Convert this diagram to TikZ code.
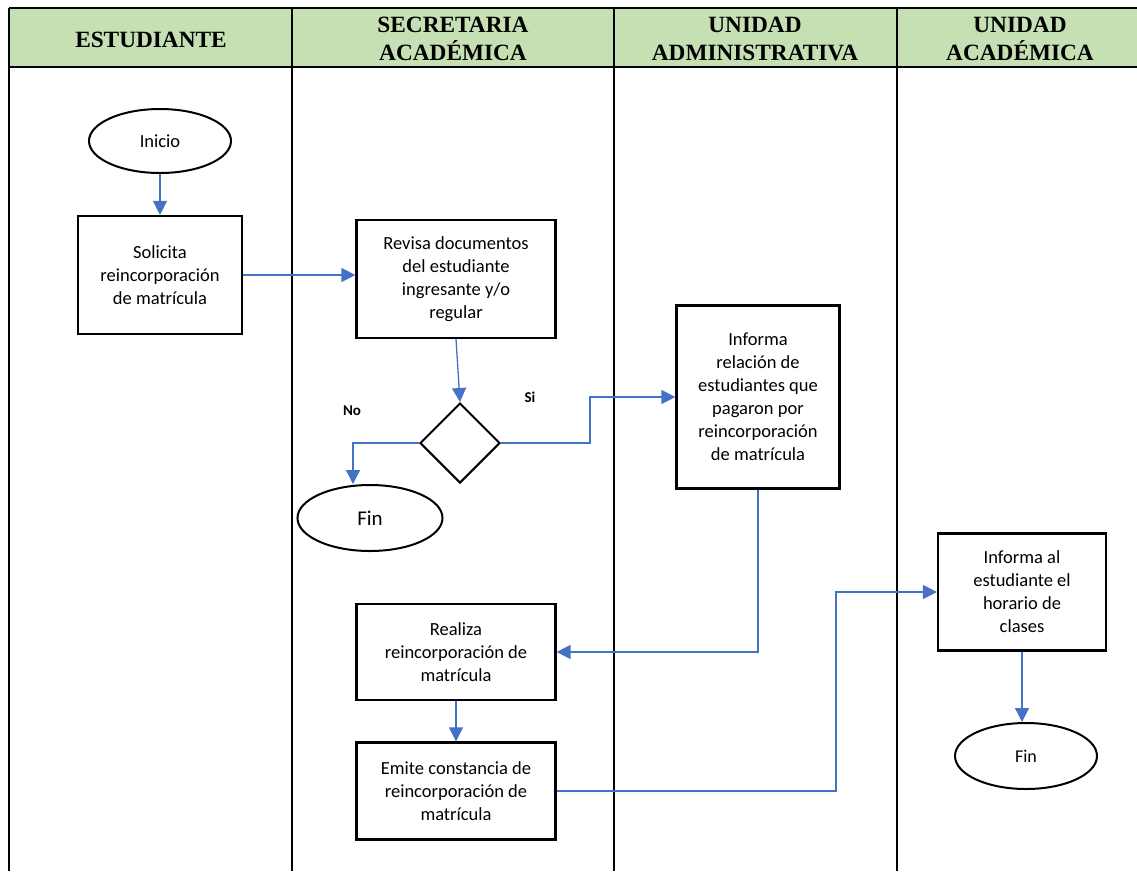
\documentclass[tikz,border=0pt]{standalone}
\usepackage{fontspec}
\setmainfont{Carlito}
\newfontfamily\hdrfont{Liberation Serif}
\usetikzlibrary{arrows.meta,shapes.geometric}
\definecolor{hdrgreen}{RGB}{198,224,180}
\definecolor{flowblue}{RGB}{68,114,196}
\begin{document}
\begin{tikzpicture}[x=1pt,y=-1pt,
  lane/.style={line width=1.6pt,black},
  hdr/.style={font=\hdrfont\bfseries\fontsize{23.3}{28}\selectfont,align=center,inner sep=0pt},
  proc/.style={draw=black,line width=2.2pt,rectangle,align=center,inner sep=2pt,
     font=\fontsize{18.5}{23}\selectfont},
  term/.style={draw=black,line width=2pt,ellipse,inner sep=0pt,font=\fontsize{18.5}{22}\selectfont},
  decision/.style={draw=black,line width=2pt,diamond,minimum width=80pt,minimum height=80pt,inner sep=0pt},
  arr/.style={draw=flowblue,line width=1.3pt,-{Triangle[length=14pt,width=14pt]}},
  lbl/.style={font=\bfseries\fontsize{15}{17}\selectfont,inner sep=0pt}]
\useasboundingbox (0,0) rectangle (1137,871);

% swimlane header band
\fill[hdrgreen] (9,8) rectangle (1137,67);
\draw[lane] (9,8) -- (1137,8);
\draw[lane] (9,67) -- (1137,67);
\foreach \lx in {9,292,614,897}
  \draw[lane] (\lx,8) -- (\lx,871);

\node[hdr] (h1) at (151,40) {ESTUDIANTE};
\node[hdr] (h2) at (453,39) {SECRETARIA\\ACADÉMICA};
\node[hdr] (h3) at (755,39) {UNIDAD\\ADMINISTRATIVA};
\node[hdr] (h4) at (1020,39) {UNIDAD\\ACADÉMICA};

% flow nodes
\node[term,minimum width=142pt,minimum height=64pt] (inicio) at (160,141) {Inicio};
\node[proc,minimum width=164pt,minimum height=118pt] (sol) at (160,275)
  {Solicita\\reincorporación\\de matrícula};
\node[proc,minimum width=199pt,minimum height=118pt] (rev) at (456,279)
  {Revisa documentos\\del estudiante\\ingresante y/o\\regular};
\node[decision] (dia) at (460,443) {};
\node[term,minimum width=145pt,minimum height=66pt,font=\fontsize{21}{24}\selectfont] (fin1) at (370,518) {Fin};
\node[proc,minimum width=163pt,minimum height=183pt] (inf1) at (758,397)
  {Informa\\relación de\\estudiantes que\\pagaron por\\reincorporación\\de matrícula};
\node[proc,minimum width=199pt,minimum height=96pt] (real) at (456,652)
  {Realiza\\reincorporación de\\matrícula};
\node[proc,minimum width=199pt,minimum height=97pt] (emi) at (456,791)
  {Emite constancia de\\reincorporación de\\matrícula};
\node[proc,minimum width=168pt,minimum height=117pt] (inf2) at (1022,592)
  {Informa al\\estudiante el\\horario de\\clases};
\node[term,minimum width=142pt,minimum height=66pt,font=\fontsize{18}{22}\selectfont] (fin2) at (1026,756) {Fin};

% branch labels
\node[lbl] (no) at (352,411) {No};
\node[lbl] (si) at (530,397) {Si};

% bend points of the elbow connectors
\coordinate (noturn) at (353,0);
\coordinate (siturn) at (590,0);
\coordinate (emiturn) at (836,0);

% connectors
\draw[arr] (inicio) -- (sol);
\draw[arr] (sol.east) -- (sol.east -| rev.west);
\draw[arr] (rev.south) -- (dia.north);
\draw[arr] (dia.west) -| (noturn |- fin1.north);
\draw[arr] (dia.east) -- (dia.east -| siturn) |- (inf1.west);
\draw[arr] (inf1.south) |- (real.east);
\draw[arr] (real.south) -- (emi.north);
\draw[arr] (emi.east) -- (emi.east -| emiturn) |- (inf2.west);
\draw[arr] (inf2.south) -- (inf2.south |- fin2.north);
\end{tikzpicture}
\end{document}
